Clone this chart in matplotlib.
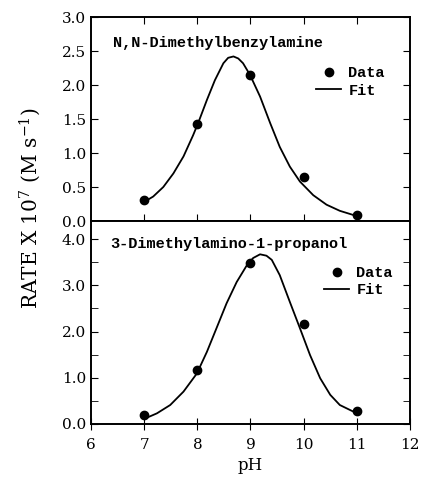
import numpy as np
import matplotlib.pyplot as plt

# measured rates (x 10^7 M/s)
ph_data = [7, 8, 9, 10, 11]
benzyl_rate = [0.31, 1.43, 2.15, 0.65, 0.09]
propanol_rate = [0.20, 1.16, 3.48, 2.16, 0.29]

# fit curves
benzyl_fit_ph = [7.02, 7.17, 7.36, 7.55, 7.74, 7.92, 8.02, 8.18, 8.33, 8.49, 8.58, 8.68,
                 8.77, 8.86, 8.99, 9.18, 9.37, 9.55, 9.74, 9.93, 10.18, 10.43, 10.68, 10.97]
benzyl_fit = [0.29, 0.36, 0.50, 0.70, 0.95, 1.26, 1.45, 1.78, 2.07, 2.32, 2.40, 2.42,
              2.39, 2.32, 2.15, 1.83, 1.44, 1.09, 0.80, 0.58, 0.38, 0.24, 0.15, 0.08]
propanol_fit_ph = [7.02, 7.24, 7.49, 7.74, 7.99, 8.18, 8.36, 8.55, 8.74, 8.93, 9.05, 9.18,
                   9.30, 9.40, 9.55, 9.74, 9.93, 10.12, 10.31, 10.50, 10.68, 10.93, 11.0]
propanol_fit = [0.12, 0.23, 0.41, 0.70, 1.09, 1.56, 2.07, 2.61, 3.07, 3.43, 3.59, 3.67,
                3.64, 3.55, 3.22, 2.64, 2.07, 1.49, 0.99, 0.63, 0.41, 0.27, 0.26]

plt.rcParams['font.family'] = ['DejaVu Serif']
plt.rcParams['mathtext.fontset'] = 'dejavuserif'

fig = plt.figure(figsize=(4.22, 4.83), dpi=100)
ax1 = fig.add_axes([0.2156, 0.5424, 0.756, 0.4224])
ax2 = fig.add_axes([0.2156, 0.1222, 0.756, 0.4202])

mono = dict(family='Liberation Mono', fontsize=11, fontweight='bold')
leg_prop = dict(family='Liberation Mono', size=11, weight='bold')

# top panel
ax1.plot(benzyl_fit_ph, benzyl_fit, color='black', lw=1.3, label='Fit')
ax1.plot(ph_data, benzyl_rate, 'o', color='black', ms=6, label='Data')
ax1.set_xlim(6, 12)
ax1.set_ylim(0, 3.0)
ax1.set_yticks(np.arange(0, 3.01, 0.5))
ax1.set_yticklabels(['0.0', '0.5', '1.0', '1.5', '2.0', '2.5', '3.0'])
ax1.set_xticks([7, 8, 9, 10, 11])
ax1.tick_params(axis='x', direction='in', top=True, labelbottom=False, length=5)
ax1.tick_params(axis='y', direction='in', right=True, length=5, labelsize=11)
ax1.text(0.069, 0.873, 'N,N-Dimethylbenzylamine', transform=ax1.transAxes, va='center', **mono)
h, l = ax1.get_legend_handles_labels()
ax1.legend(h[::-1], l[::-1], loc='upper right', bbox_to_anchor=(0.955, 0.81), frameon=False,
           handlelength=1.6, handletextpad=0.5, labelspacing=0.2, borderpad=0.2,
           prop=leg_prop)

# bottom panel
ax2.plot(propanol_fit_ph, propanol_fit, color='black', lw=1.3, label='Fit')
ax2.plot(ph_data, propanol_rate, 'o', color='black', ms=6, label='Data')
ax2.set_xlim(6, 12)
ax2.set_ylim(0, 4.39)
ax2.set_yticks([0, 1, 2, 3, 4])
ax2.set_yticklabels(['0.0', '1.0', '2.0', '3.0', '4.0'])
ax2.set_yticks(np.arange(0.5, 4.4, 1.0), minor=True)
ax2.set_xticks([6, 7, 8, 9, 10, 11, 12])
ax2.tick_params(axis='x', direction='inout', length=8, labelsize=11, pad=6)
ax2.tick_params(axis='y', which='both', direction='in', right=True, length=5, labelsize=11)
ax2.text(0.06, 0.887, '3-Dimethylamino-1-propanol', transform=ax2.transAxes, va='center', **mono)
h, l = ax2.get_legend_handles_labels()
ax2.legend(h[::-1], l[::-1], loc='upper right', bbox_to_anchor=(0.98, 0.83), frameon=False,
           handlelength=1.6, handletextpad=0.5, labelspacing=0.2, borderpad=0.2,
           prop=leg_prop)
ax2.set_xlabel('pH', fontsize=12, labelpad=4)

for ax in (ax1, ax2):
    for s in ax.spines.values():
        s.set_linewidth(1.4)

fig.text(0.072, 0.568, 'RATE X 10$^{7}$ (M s$^{-1}$)', rotation=90, ha='center', va='center',
         fontsize=14.5)

fig.savefig('out.png', dpi=100)
